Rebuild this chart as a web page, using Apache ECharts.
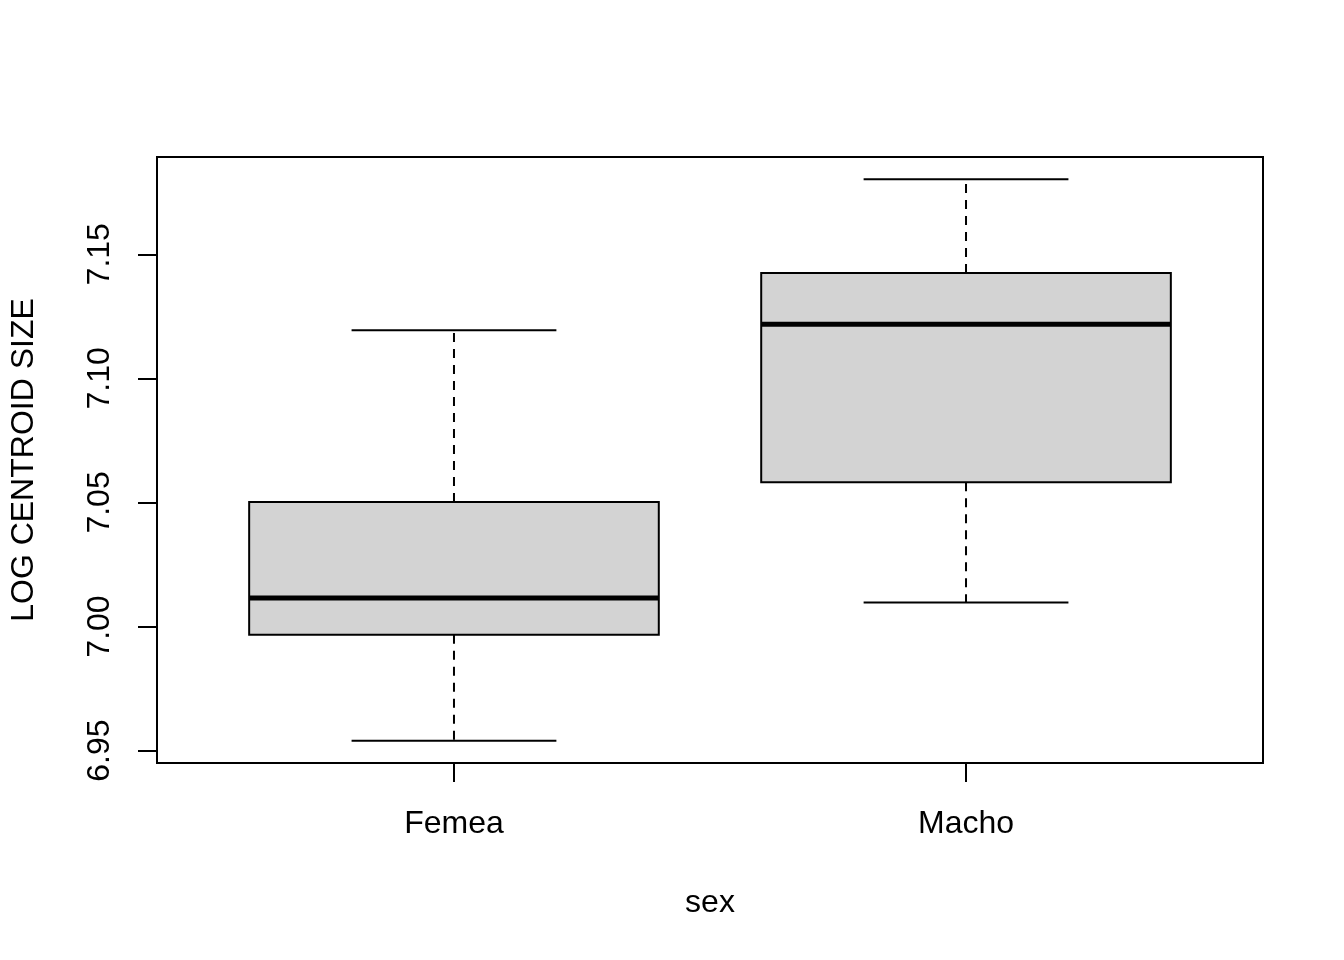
<!DOCTYPE html>
<html>
<head>
<meta charset="utf-8">
<script src="https://cdn.jsdelivr.net/npm/echarts@6/dist/echarts.min.js"></script>
<style>
html,body{margin:0;padding:0;background:#fff;}
#chart{width:1344px;height:960px;}
</style>
</head>
<body>
<div id="chart"></div>
<script>
// ---- data ----
const categories = ['Femea', 'Macho'];
const lowerWhisker = [6.9540, 7.0097];
const q1 = [6.9967, 7.0581];
const median = [7.0115, 7.1218];
const q3 = [7.0502, 7.1425];
const upperWhisker = [7.1194, 7.1802];
const yTicks = [6.95, 7.00, 7.05, 7.10, 7.15];
const xTicks = [1, 2];

const FONT = "'Liberation Sans', Arial, Helvetica, sans-serif";

const boxData = categories.map((c, i) => [i + 1, lowerWhisker[i], q1[i], median[i], q3[i], upperWhisker[i]]);

function renderItem(params, api) {
  const x = api.value(0);
  const pLw = api.coord([x, api.value(1)]);
  const pQ1 = api.coord([x, api.value(2)]);
  const pMed = api.coord([x, api.value(3)]);
  const pQ3 = api.coord([x, api.value(4)]);
  const pUw = api.coord([x, api.value(5)]);
  const boxW = api.size([0.8, 0])[0];
  const capW = api.size([0.4, 0])[0];
  const cx = pMed[0];
  const dashed = { stroke: '#000', lineWidth: 2, lineDash: [9, 7], fill: null };
  const solid = { stroke: '#000', lineWidth: 2, fill: null };
  return {
    type: 'group',
    children: [
      { type: 'line', shape: { x1: cx, y1: pQ3[1], x2: cx, y2: pUw[1] }, style: dashed },
      { type: 'line', shape: { x1: cx, y1: pQ1[1], x2: cx, y2: pLw[1] }, style: dashed },
      { type: 'line', shape: { x1: cx - capW / 2, y1: pUw[1], x2: cx + capW / 2, y2: pUw[1] }, style: solid },
      { type: 'line', shape: { x1: cx - capW / 2, y1: pLw[1], x2: cx + capW / 2, y2: pLw[1] }, style: solid },
      { type: 'rect', shape: { x: cx - boxW / 2, y: pQ3[1], width: boxW, height: pQ1[1] - pQ3[1] },
        style: { fill: '#d3d3d3', stroke: '#000', lineWidth: 2 } },
      { type: 'line', shape: { x1: cx - boxW / 2, y1: pMed[1], x2: cx + boxW / 2, y2: pMed[1] },
        style: { stroke: '#000', lineWidth: 5 } }
    ]
  };
}

const chart = echarts.init(document.getElementById('chart'), null, { renderer: 'canvas' });
chart.setOption({
  backgroundColor: '#ffffff',
  animation: false,
  textStyle: { fontFamily: FONT },
  grid: {
    left: 157, right: 81, top: 157, bottom: 197,
    show: true, borderColor: '#000', borderWidth: 2, backgroundColor: 'transparent',
    containLabel: false
  },
  xAxis: {
    type: 'value',
    min: 0.42, max: 2.58,
    name: 'sex',
    nameLocation: 'middle',
    nameGap: 124,
    nameTextStyle: { fontSize: 32, color: '#000', fontFamily: FONT },
    axisLine: { show: false },
    splitLine: { show: false },
    axisTick: { show: true, customValues: xTicks, length: 19, inside: false, lineStyle: { color: '#000', width: 2 } },
    axisLabel: {
      customValues: xTicks,
      formatter: v => categories[Math.round(v) - 1] || '',
      fontSize: 32, color: '#000', fontFamily: FONT, margin: 45
    }
  },
  yAxis: {
    type: 'value',
    min: 6.9450, max: 7.1892,
    name: 'LOG CENTROID SIZE',
    nameLocation: 'middle',
    nameRotate: 90,
    nameGap: 117,
    nameTextStyle: { fontSize: 32, color: '#000', fontFamily: FONT },
    axisLine: { show: false },
    splitLine: { show: false },
    axisTick: { show: true, customValues: yTicks, length: 19, inside: false, lineStyle: { color: '#000', width: 2 } },
    axisLabel: {
      customValues: yTicks,
      formatter: v => v.toFixed(2),
      rotate: 90,
      fontSize: 32, color: '#000', fontFamily: FONT, margin: 41
    }
  },
  series: [{
    type: 'custom',
    renderItem: renderItem,
    encode: { x: 0, y: [1, 2, 3, 4, 5] },
    data: boxData,
    clip: false
  }]
});
</script>
</body>
</html>
